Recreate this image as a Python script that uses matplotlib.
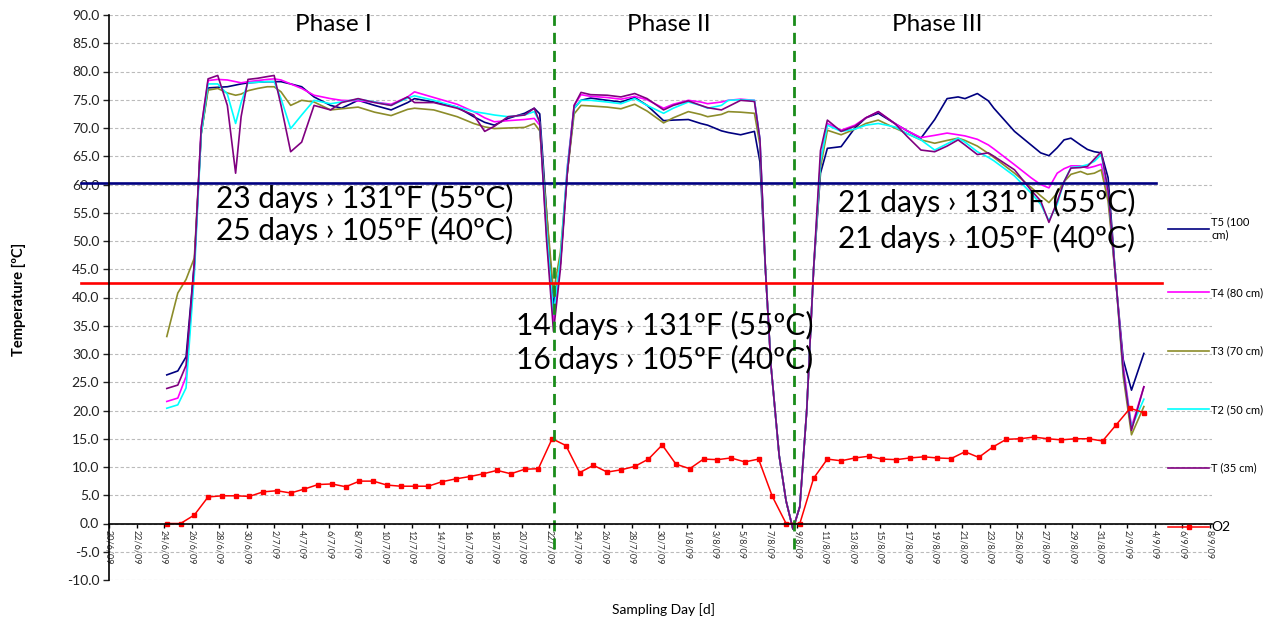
import datetime as dt
import numpy as np
import matplotlib
matplotlib.use("Agg")
import matplotlib.pyplot as plt

# day offsets from 20/6/09 at which the probe temperatures were read
days = [4.2, 5.0, 5.6, 6.2, 6.7, 7.2, 7.9, 8.6, 9.2, 9.6,
        10.1, 10.8, 11.5, 12.0, 12.5, 13.2, 14.0, 14.9, 16.1, 16.9,
        18.1, 19.3, 20.5, 21.7, 22.2, 23.6, 25.3, 26.5, 27.3, 28.0,
        29.0, 30.2, 30.9, 31.3, 31.8, 32.3, 32.8, 33.3, 33.8,
        34.3, 35.0, 36.2, 37.2, 38.2, 39.1, 40.3, 41.0, 42.1, 43.0,
        43.5, 44.5, 45.0, 45.9, 46.9, 47.3, 47.7, 48.1, 48.7, 49.2,
        49.7, 50.2, 50.7, 51.2, 51.7,
        52.2, 53.2, 54.2, 55.0, 55.9, 57.1, 58.0, 59.0, 60.0, 60.9,
        61.7, 62.2, 63.1, 63.9, 64.3, 65.8, 67.0, 67.7, 68.3, 68.9,
        69.4, 69.9, 70.6, 71.1, 71.6, 72.1, 72.6, 73.2, 73.7, 74.3, 75.2]

t5 = [26.3, 27.0, 29.5, 46.0, 69.0, 77.1, 77.2, 77.3, 77.6, 77.8,
      78.0, 78.1, 78.2, 78.2, 78.2, 77.8, 77.3, 75.5, 74.0, 73.5,
      74.9, 74.0, 73.2, 74.5, 75.2, 74.6, 73.7, 72.0, 71.0, 70.5,
      71.7, 72.6, 73.5, 72.5, 55.0, 38.5, 46.0, 62.0, 73.5,
      74.9, 75.3, 74.9, 74.6, 75.4, 74.0, 71.3, 71.4, 71.5, 70.8,
      70.5, 69.5, 69.2, 68.8, 69.4, 64.0, 45.0, 28.0, 12.0, 4.0,
      -1.0, 3.0, 20.0, 45.0, 62.0,
      66.4, 66.7, 70.0, 71.8, 72.6, 70.8, 69.5, 68.2, 71.5, 75.2,
      75.5, 75.2, 76.1, 74.8, 73.5, 69.4, 67.0, 65.6, 65.1, 66.5,
      67.9, 68.2, 67.0, 66.2, 65.8, 65.6, 61.2, 42.0, 29.0, 23.6, 30.1]

t4 = [21.6, 22.2, 26.0, 45.0, 70.0, 78.4, 78.6, 78.5, 78.2, 78.0,
      78.2, 78.4, 78.6, 78.7, 78.5, 77.8, 77.0, 75.8, 75.2, 74.9,
      74.8, 74.6, 74.2, 75.5, 76.4, 75.4, 74.2, 72.9, 71.8, 71.1,
      71.3, 71.5, 71.7, 70.5, 51.0, 36.0, 46.0, 63.0, 74.0,
      75.9, 75.6, 75.4, 75.1, 75.6, 75.0, 73.5, 74.2, 74.9, 74.6,
      74.3, 74.6, 74.9, 75.1, 74.9, 68.0, 45.0, 28.0, 12.0, 4.0,
      -1.0, 3.0, 20.0, 45.0, 64.0,
      70.8, 69.6, 70.5, 71.8, 72.9, 70.8, 69.5, 68.3, 68.7, 69.1,
      68.8, 68.6, 68.0, 67.0, 66.3, 63.5, 61.2, 60.0, 59.4, 62.0,
      62.8, 63.3, 63.3, 62.9, 63.2, 63.6, 58.0, 42.0, 28.0, 17.1, 24.2]

t3 = [33.1, 40.8, 43.2, 47.0, 69.0, 76.7, 77.0, 76.2, 75.8, 76.0,
      76.6, 77.0, 77.3, 77.3, 76.4, 74.0, 74.9, 74.6, 73.2, 73.4,
      73.7, 72.8, 72.2, 73.3, 73.5, 73.2, 72.0, 70.8, 70.2, 69.9,
      70.0, 70.1, 70.8, 69.5, 55.0, 41.0, 48.0, 62.0, 72.5,
      74.0, 73.9, 73.7, 73.4, 74.2, 73.0, 70.9, 71.8, 72.9, 72.4,
      72.0, 72.4, 72.9, 72.8, 72.6, 67.0, 45.0, 28.0, 12.0, 4.0,
      -1.0, 3.0, 20.0, 45.0, 63.0,
      69.6, 68.8, 69.8, 70.8, 71.4, 70.0, 69.0, 67.9, 67.3, 67.8,
      68.2, 67.8, 66.8, 65.5, 64.8, 62.0, 59.5, 58.0, 56.8, 58.5,
      60.5, 61.8, 62.3, 61.8, 62.0, 62.6, 57.0, 42.0, 26.0, 15.7, 20.7]

t2 = [20.4, 21.0, 24.0, 44.0, 69.0, 77.8, 77.8, 76.0, 70.8, 74.5,
      78.0, 78.1, 78.2, 78.2, 75.2, 69.9, 72.3, 74.9, 74.3, 74.6,
      75.1, 74.6, 74.0, 75.3, 75.7, 74.9, 73.7, 72.9, 72.6, 72.3,
      72.0, 72.3, 72.9, 71.0, 52.0, 37.0, 47.0, 63.0, 73.5,
      74.9, 74.9, 74.6, 74.3, 75.2, 74.0, 72.6, 73.5, 74.6, 74.0,
      73.5, 74.0, 74.9, 75.0, 74.9, 68.0, 45.0, 28.0, 12.0, 4.0,
      -1.0, 3.0, 20.0, 45.0, 64.0,
      70.5, 69.4, 69.8, 70.5, 70.8, 70.2, 69.0, 67.9, 66.1, 67.2,
      68.2, 67.5, 65.8, 64.8, 64.2, 61.5, 58.5, 56.5, 53.6, 56.5,
      60.5, 63.0, 63.2, 63.5, 64.1, 65.3, 59.0, 42.0, 27.0, 17.0, 22.0]

t1 = [23.9, 24.5, 28.0, 46.0, 70.0, 78.7, 79.3, 74.0, 62.0, 72.0,
      78.6, 78.8, 79.1, 79.3, 74.0, 65.8, 67.5, 74.0, 73.2, 74.5,
      75.2, 74.5, 74.0, 75.5, 74.5, 74.5, 73.5, 72.3, 69.4, 70.3,
      72.0, 72.3, 73.5, 71.0, 50.0, 34.0, 45.0, 62.0, 74.0,
      76.3, 75.9, 75.8, 75.5, 76.1, 75.2, 73.2, 74.0, 74.8, 74.0,
      73.6, 73.2, 73.8, 74.9, 74.7, 68.0, 45.0, 28.0, 12.0, 4.0,
      -1.0, 3.0, 20.0, 45.0, 66.0,
      71.4, 69.4, 70.3, 71.8, 72.9, 70.8, 68.5, 66.1, 65.8, 66.8,
      67.9, 67.0, 65.3, 65.6, 65.0, 62.6, 59.0, 57.1, 53.3, 57.0,
      60.5, 62.9, 63.0, 63.2, 64.5, 65.8, 59.0, 42.0, 27.0, 16.5, 24.2]

# daily O2 readings from 24/6 to 3/9
o2_days = [d + 0.2 for d in range(4, 76)]
o2 = [0.0, 0.0, 1.5, 4.7, 4.9, 4.9, 4.8, 5.6, 5.8, 5.4,
      6.1, 6.9, 7.0, 6.5, 7.5, 7.5, 6.8, 6.6, 6.6, 6.6,
      7.4, 7.9, 8.3, 8.8, 9.4, 8.8, 9.6, 9.7, 15.0, 13.8,
      9.0, 10.3, 9.1, 9.5, 10.1, 11.4, 13.9, 10.5, 9.7, 11.4,
      11.3, 11.6, 10.9, 11.4, 4.8, 0.0, 0.0, 8.0, 11.4, 11.1,
      11.6, 11.9, 11.4, 11.3, 11.6, 11.8, 11.6, 11.5, 12.7, 11.7,
      13.5, 14.9, 15.0, 15.3, 15.0, 14.8, 15.0, 15.0, 14.6, 17.5,
      20.4, 19.6]

series = [("T5 (100\ncm)", t5, "#000080"),
          ("T4 (80 cm)", t4, "#ff00ff"),
          ("T3 (70 cm)", t3, "#8c8c2a"),
          ("T2 (50 cm)", t2, "#00ffff"),
          ("T (35 cm)", t1, "#800080")]

start = dt.date(2009, 6, 20)
phase_bounds = [32.3, 49.8]
phase_names = [("Phase I", 16.3), ("Phase II", 40.7), ("Phase III", 60.2)]
limits = [(60.3, "#000080", 76.1), (42.6, "#ff0000", 76.5)]
notes = [(7.8, 57.6, "23 days › 131ºF (55ºC)"), (7.8, 51.8, "25 days › 105ºF (40ºC)"),
         (29.6, 35.0, "14 days › 131ºF (55ºC)"), (29.6, 29.1, "16 days › 105ºF (40ºC)"),
         (53.0, 56.9, "21 days › 131ºF (55ºC)"), (53.0, 50.5, "21 days › 105ºF (40ºC)")]

plt.rcParams['font.family'] = ['Lato', 'DejaVu Sans']

fig = plt.figure(figsize=(12.79, 6.21), dpi=100)
ax = fig.add_axes([109 / 1279, 1 - 580 / 621, 1103 / 1279, 565 / 621])

handles = []
for label, vals, col in series:
    h, = ax.plot(days, vals, color=col, lw=1.2, label=label)
    handles.append(h)
h, = ax.plot(o2_days, o2, color="red", lw=1.1, marker="s", ms=2.5, label="O2")
handles.append(h)

for val, col, xend in limits:
    ax.plot([-2.0, xend], [val, val], color=col, lw=1.9, clip_on=False)
for xb in phase_bounds:
    ax.plot([xb, xb], [-4.5, 90], color="#1a8c1a", lw=2.0,
            linestyle=(0, (4, 2.5)), clip_on=False)

for name, xp in phase_names:
    ax.text(xp, 88.4, name, ha="center", va="center", fontsize=17.5)
for xp, yp, txt in notes:
    ax.text(xp, yp, txt, ha="left", va="center", fontsize=21.5)

ax.set_xlim(0, 80.15)
ax.set_ylim(-10, 90)
ax.spines["bottom"].set_position(("data", 0))
ax.spines["top"].set_visible(False)
ax.spines["right"].set_visible(False)
ax.spines["left"].set_linewidth(1.2)
ax.spines["bottom"].set_linewidth(1.2)

ax.set_yticks(np.arange(-10, 91, 5))
ax.set_yticklabels([f"{v:.1f}" for v in np.arange(-10, 91, 5)])
xt = np.arange(0, 81, 2)
ax.set_xticks(xt)
labels = []
for d in xt:
    day = start + dt.timedelta(days=int(d))
    labels.append(f"{day.day}/{day.month}/09")
ax.set_xticklabels(labels)
ax.tick_params(axis="y", length=4, width=1, labelsize=10, pad=3, colors="#222222")
ax.tick_params(axis="x", length=3, width=1, labelsize=6.5, pad=2,
               labelcolor="#333333", labelrotation=-90)
ax.yaxis.grid(True, linestyle=(0, (3, 2)), color="#bbbbbb", lw=0.8)
ax.set_axisbelow(True)

ax.set_ylabel("Temperature [ºC]", fontsize=10.5, fontweight="bold")
ax.yaxis.set_label_coords(-0.075, 0.496)
fig.text(664 / 1279, 1 - 610 / 621, "Sampling Day [d]", ha="center", va="center", fontsize=10)

leg = ax.legend(handles=handles, loc="upper left", frameon=False,
                bbox_to_anchor=(1168 / 1279, 1 - 216 / 621), bbox_transform=fig.transFigure,
                fontsize=8, handlelength=3.7, handletextpad=0.2, labelspacing=4.27,
                borderaxespad=0, borderpad=0)
leg.get_texts()[-1].set_fontsize(10)

fig.savefig("out.png", dpi=100)
